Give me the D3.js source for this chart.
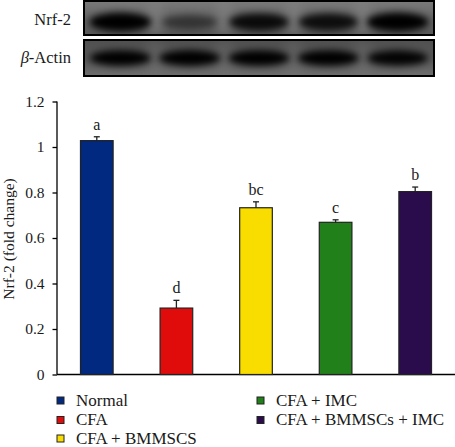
<!DOCTYPE html>
<html><head><meta charset="utf-8">
<script src="https://cdn.jsdelivr.net/npm/d3@7"></script>
<style>body{margin:0;background:#fff}svg{display:block}text{font-family:"Liberation Serif","DejaVu Serif",serif;fill:#1a1a1a}</style>
</head><body>
<script>
const categories = ["Normal","CFA","CFA + BMMSCS","CFA + IMC","CFA + BMMSCs + IMC"];
const values = [1.028, 0.292, 0.733, 0.669, 0.804];
const errors = [0.017, 0.034, 0.026, 0.011, 0.020];
const letters = ["a","d","bc","c","b"];
const colors = ["#00297f","#e00b0b","#f9dd00","#22801a","#2a0c4c"];
const yTicks = [0,0.2,0.4,0.6,0.8,1,1.2];
const blotLabels = ["Nrf-2","β-Actin"];
const nrfBand = [1.0, 0.45, 0.85, 0.82, 1.0];
const actinBand = [0.95, 0.97, 0.95, 0.95, 0.92];

const W=455,H=447;
const svg=d3.select("body").append("svg").attr("width",W).attr("height",H);
const defs=svg.append("defs");
defs.append("filter").attr("id","blur").attr("x","-50%").attr("y","-100%").attr("width","200%").attr("height","300%")
  .append("feGaussianBlur").attr("stdDeviation",3.5);
defs.append("filter").attr("id","blur2").attr("x","-50%").attr("y","-50%").attr("width","200%").attr("height","200%")
  .append("feGaussianBlur").attr("stdDeviation",6);
const g1=defs.append("linearGradient").attr("id","bg1").attr("x1",0).attr("y1",0).attr("x2",0).attr("y2",1);
g1.append("stop").attr("offset","0").attr("stop-color","#7a7a7a");
g1.append("stop").attr("offset","0.55").attr("stop-color","#636363");
g1.append("stop").attr("offset","1").attr("stop-color","#585858");
const g2=defs.append("linearGradient").attr("id","bg2").attr("x1",0).attr("y1",0).attr("x2",0).attr("y2",1);
g2.append("stop").attr("offset","0").attr("stop-color","#505050");
g2.append("stop").attr("offset","0.6").attr("stop-color","#5a5a5a");
g2.append("stop").attr("offset","1").attr("stop-color","#6e6e6e");

// blot
const blotX=d3.scaleBand().domain(categories).range([84,434]).padding(0.05);
const blots=[{y:1,h:34,bg:"url(#bg1)",band:nrfBand,by:22,bh:9.5,ly:25},{y:40,h:36,bg:"url(#bg2)",band:actinBand,by:58,bh:8,ly:63}];
blots.forEach((b,i)=>{
  const gg=svg.append("g");
  gg.append("rect").attr("x",84).attr("y",b.y).attr("width",350).attr("height",b.h).attr("fill",b.bg);
  const clip=defs.append("clipPath").attr("id","c"+i);
  clip.append("rect").attr("x",84).attr("y",b.y).attr("width",350).attr("height",b.h);
  const cg=gg.append("g").attr("clip-path","url(#c"+i+")");
  cg.selectAll("rect.gap").data(categories.slice(1)).join("rect").attr("class","gap")
    .attr("x",d=>blotX(d)-9).attr("y",b.y).attr("width",14).attr("height",b.h)
    .attr("fill","#8a8a8a").attr("opacity",i===0?0.5:0.2).attr("filter","url(#blur2)");
  cg.selectAll("ellipse").data(b.band).join("ellipse")
    .attr("cx",(d,j)=>blotX(categories[j])+blotX.bandwidth()/2)
    .attr("cy",b.by).attr("rx",d=>25+6*d).attr("ry",d=>b.bh*(0.55+0.45*d))
    .attr("fill","#000").attr("opacity",d=>Math.min(1,d*1.05)).attr("filter","url(#blur)");
  gg.append("rect").attr("x",84).attr("y",b.y).attr("width",350).attr("height",b.h).attr("fill","none").attr("stroke","#000").attr("stroke-width",2);
  gg.append("text").attr("x",71).attr("y",b.ly).attr("text-anchor","end").attr("font-size",16.5)
    .html(i===0?blotLabels[0]:'<tspan font-style="italic">β</tspan>-Actin');
});

// chart
const x=d3.scaleBand().domain(categories).range([57,455]).paddingInner(0.59).paddingOuter(0.295);
const y=d3.scaleLinear().domain([0,1.2]).range([374.5,101.5]);
const yAxis=svg.append("g").attr("transform","translate(57,0)")
  .call(d3.axisLeft(y).tickValues(yTicks).tickFormat(d=>d===0||d===1?String(d):d3.format(".1f")(d)).tickSize(4.5).tickPadding(8));
yAxis.select(".domain").attr("stroke","#000").attr("stroke-width",1.3).attr("d","M0,374.5V101.5");
yAxis.selectAll(".tick line").attr("stroke","#000").attr("stroke-width",1.3);
yAxis.selectAll("text").attr("font-size",15.5).attr("font-family","Liberation Serif").attr("fill","#1a1a1a");
svg.append("line").attr("x1",57).attr("x2",455).attr("y1",y(0)).attr("y2",y(0)).attr("stroke","#000").attr("stroke-width",1.3);

svg.append("text").attr("transform","translate(14,239) rotate(-90)").attr("text-anchor","middle").attr("font-size",15.5).text("Nrf-2 (fold change)");

const bars=svg.append("g");
bars.selectAll("rect").data(values).join("rect")
  .attr("x",(d,i)=>x(categories[i])).attr("width",x.bandwidth())
  .attr("y",d=>y(d)).attr("height",d=>y(0)-y(d))
  .attr("fill",(d,i)=>colors[i]).attr("stroke","#222").attr("stroke-width",1.2);
const eb=svg.append("g").attr("stroke","#222").attr("stroke-width",1.3);
values.forEach((v,i)=>{
  const cx=x(categories[i])+x.bandwidth()/2;
  eb.append("line").attr("x1",cx).attr("x2",cx).attr("y1",y(v)).attr("y2",y(v+errors[i]));
  eb.append("line").attr("x1",cx-3).attr("x2",cx+3).attr("y1",y(v+errors[i])).attr("y2",y(v+errors[i]));
  svg.append("text").attr("x",cx).attr("y",y(v+errors[i])-7).attr("text-anchor","middle").attr("font-size",16).text(letters[i]);
});

// legend
const legPos=[[57,400.5],[57,420],[57,438.5],[257,400.5],[257,420]];
categories.forEach((c,i)=>{
  const [lx,ly]=legPos[i];
  svg.append("rect").attr("x",lx).attr("y",ly-3.5).attr("width",7).attr("height",7).attr("fill",colors[i]).attr("stroke","#222").attr("stroke-width",1);
  svg.append("text").attr("x",lx+19).attr("y",ly+5).attr("font-size",17).text(c);
});
</script>
</body></html>
